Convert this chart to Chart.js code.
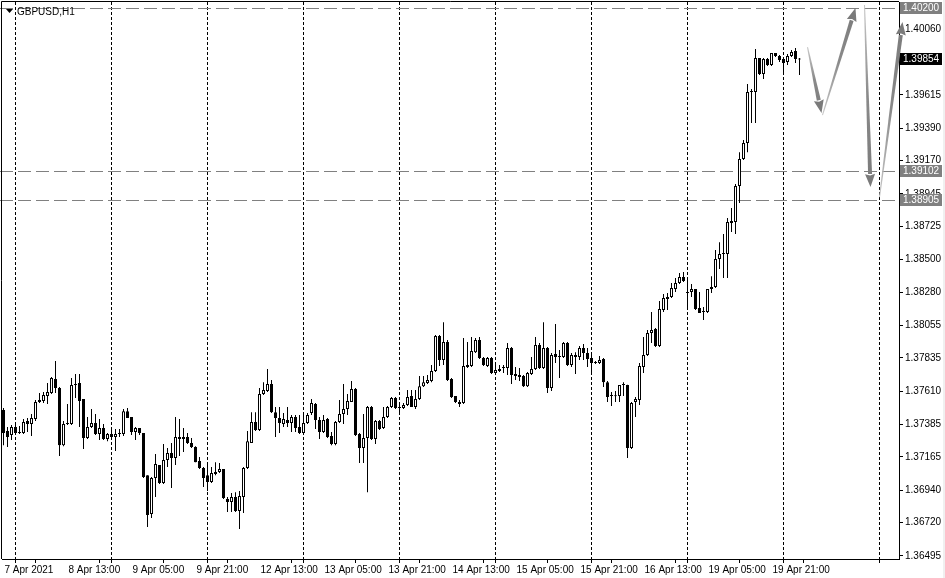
<!DOCTYPE html>
<html>
<head>
<meta charset="utf-8">
<title>GBPUSD,H1</title>
<script src="https://cdn.jsdelivr.net/npm/chart.js@4.4.1/dist/chart.umd.min.js"></script>
<style>
  html, body { margin: 0; padding: 0; background: #fff; }
  canvas { display: block; }
</style>
</head>
<body>
<canvas id="grafico" width="945" height="578"></canvas>
<script>
// GBPUSD H1, one bar per hour from 7 Apr 2021 21:00
const opens = [
  1.37482,1.37340,1.37313,1.37368,1.37327,1.37327,1.37408,1.37388,1.37421,1.37536,
  1.37543,1.37577,1.37598,1.37692,1.37631,1.37245,1.37388,1.37388,1.37651,1.37665,
  1.37557,1.37293,1.37368,1.37395,1.37320,1.37361,1.37286,1.37320,1.37300,1.37320,
  1.37320,1.37475,1.37435,1.37333,1.37361,1.37327,1.37042,1.36779,1.37022,1.37110,
  1.36989,1.37144,1.37192,1.37158,1.37300,1.37286,1.37300,1.37259,1.37232,1.37137,
  1.37090,1.37042,1.36995,1.37063,1.37063,1.37083,1.36880,1.36860,1.36894,1.36799,
  1.36894,1.37090,1.37259,1.37401,1.37347,1.37591,1.37611,1.37658,1.37468,1.37428,
  1.37388,1.37415,1.37395,1.37435,1.37368,1.37327,1.37395,1.37462,1.37523,1.37415,
  1.37333,1.37421,1.37306,1.37252,1.37401,1.37455,1.37489,1.37536,1.37624,1.37320,
  1.37225,1.37293,1.37503,1.37286,1.37408,1.37361,1.37435,1.37503,1.37564,1.37496,
  1.37496,1.37516,1.37577,1.37503,1.37557,1.37644,1.37665,1.37678,1.37746,1.37983,
  1.37821,1.37942,1.37692,1.37577,1.37536,1.37530,1.37774,1.37780,1.37874,1.37956,
  1.37834,1.37780,1.37834,1.37733,1.37746,1.37767,1.37767,1.37902,1.37726,1.37719,
  1.37712,1.37644,1.37726,1.37760,1.37922,1.37767,1.37902,1.37631,1.37861,1.37841,
  1.37841,1.37936,1.37787,1.37841,1.37841,1.37902,1.37868,1.37834,1.37801,1.37801,
  1.37827,1.37671,1.37577,1.37577,1.37577,1.37651,1.37651,1.37225,1.37536,1.37550,
  1.37774,1.37854,1.38004,1.38030,1.37915,1.38159,1.38233,1.38247,1.38301,1.38342,
  1.38382,1.38274,1.38281,1.38301,1.38173,1.38145,1.38145,1.38301,1.38314,1.38504,
  1.38538,1.38538,1.38761,1.38754,1.38998,1.39181,1.39289,1.39634,1.39634,1.39864,
  1.39755,1.39857,1.39816,1.39898,1.39877,1.39857,1.39836,1.39877,1.39911,1.39857
];
const highs = [
  1.37496,1.37368,1.37381,1.37381,1.37374,1.37421,1.37428,1.37455,1.37550,1.37598,
  1.37604,1.37665,1.37706,1.37814,1.37638,1.37408,1.37523,1.37699,1.37726,1.37726,
  1.37557,1.37435,1.37489,1.37455,1.37421,1.37388,1.37327,1.37347,1.37354,1.37354,
  1.37489,1.37496,1.37435,1.37368,1.37361,1.37327,1.37042,1.37029,1.37185,1.37110,
  1.37252,1.37225,1.37259,1.37435,1.37421,1.37361,1.37327,1.37293,1.37238,1.37165,
  1.37097,1.37110,1.37097,1.37130,1.37124,1.37083,1.36894,1.36921,1.36927,1.36934,
  1.37097,1.37340,1.37468,1.37468,1.37631,1.37671,1.37760,1.37685,1.37503,1.37503,
  1.37462,1.37503,1.37448,1.37448,1.37448,1.37448,1.37462,1.37557,1.37530,1.37435,
  1.37448,1.37428,1.37333,1.37408,1.37550,1.37658,1.37591,1.37678,1.37631,1.37327,
  1.37455,1.37509,1.37509,1.37415,1.37415,1.37503,1.37509,1.37571,1.37571,1.37530,
  1.37530,1.37618,1.37618,1.37618,1.37712,1.37712,1.37719,1.37787,1.37990,1.37990,
  1.38077,1.37956,1.37699,1.37577,1.37550,1.37970,1.37942,1.37977,1.37970,1.37977,
  1.37841,1.37841,1.37841,1.37801,1.37787,1.37787,1.37936,1.37909,1.37774,1.37767,
  1.37719,1.37739,1.37841,1.37977,1.37936,1.38077,1.37909,1.37868,1.38064,1.37888,
  1.37942,1.37942,1.37868,1.37874,1.37915,1.37929,1.37902,1.37854,1.37814,1.37848,
  1.37834,1.37678,1.37604,1.37611,1.37651,1.37671,1.37653,1.37536,1.37571,1.37801,
  1.37977,1.38024,1.38145,1.38037,1.38220,1.38267,1.38274,1.38342,1.38375,1.38409,
  1.38416,1.38368,1.38335,1.38301,1.38281,1.38179,1.38301,1.38388,1.38565,1.38618,
  1.38673,1.38782,1.38849,1.39011,1.39227,1.39309,1.39688,1.39654,1.39925,1.39864,
  1.39864,1.39864,1.39898,1.39898,1.39884,1.39864,1.39891,1.39918,1.39931,1.39864
];
const lows = [
  1.37245,1.37232,1.37279,1.37320,1.37320,1.37320,1.37333,1.37306,1.37408,1.37530,
  1.37530,1.37523,1.37591,1.37598,1.37171,1.37238,1.37381,1.37381,1.37563,1.37368,
  1.37218,1.37286,1.37361,1.37313,1.37279,1.37279,1.37272,1.37300,1.37205,1.37300,
  1.37306,1.37428,1.37313,1.37279,1.37313,1.37022,1.36691,1.36752,1.36894,1.36982,
  1.36982,1.37097,1.36955,1.37110,1.37171,1.37198,1.37252,1.37225,1.37130,1.37083,
  1.36962,1.36934,1.36989,1.37042,1.37056,1.36880,1.36792,1.36792,1.36792,1.36677,
  1.36786,1.37083,1.37259,1.37340,1.37340,1.37584,1.37604,1.37462,1.37300,1.37327,
  1.37368,1.37368,1.37333,1.37333,1.37320,1.37320,1.37388,1.37448,1.37354,1.37286,
  1.37327,1.37293,1.37245,1.37245,1.37395,1.37388,1.37448,1.37536,1.37306,1.37124,
  1.37124,1.36927,1.37279,1.37252,1.37347,1.37354,1.37428,1.37496,1.37489,1.37468,
  1.37489,1.37509,1.37503,1.37489,1.37550,1.37638,1.37658,1.37671,1.37739,1.37780,
  1.37787,1.37678,1.37563,1.37530,1.37503,1.37523,1.37767,1.37774,1.37868,1.37827,
  1.37780,1.37774,1.37726,1.37726,1.37739,1.37733,1.37719,1.37658,1.37685,1.37678,
  1.37638,1.37638,1.37719,1.37753,1.37760,1.37760,1.37598,1.37611,1.37801,1.37699,
  1.37834,1.37780,1.37774,1.37726,1.37821,1.37821,1.37774,1.37739,1.37794,1.37794,
  1.37638,1.37536,1.37509,1.37536,1.37536,1.37577,1.37158,1.37218,1.37435,1.37516,
  1.37733,1.37848,1.37936,1.37909,1.37909,1.38145,1.38159,1.38240,1.38281,1.38335,
  1.38348,1.38179,1.38247,1.38159,1.38139,1.38091,1.38139,1.38274,1.38308,1.38436,
  1.38375,1.38375,1.38686,1.38673,1.38883,1.39174,1.39227,1.39424,1.39424,1.39748,
  1.39721,1.39809,1.39809,1.39871,1.39836,1.39762,1.39816,1.39871,1.39830,1.39748
];
const closes = [
  1.37327,1.37300,1.37368,1.37327,1.37333,1.37401,1.37388,1.37428,1.37536,1.37550,
  1.37584,1.37604,1.37699,1.37631,1.37245,1.37388,1.37395,1.37651,1.37658,1.37543,
  1.37293,1.37368,1.37395,1.37320,1.37361,1.37286,1.37320,1.37300,1.37320,1.37322,
  1.37475,1.37428,1.37333,1.37361,1.37327,1.37029,1.36772,1.37022,1.37117,1.36989,
  1.37144,1.37192,1.37158,1.37300,1.37286,1.37300,1.37259,1.37232,1.37130,1.37090,
  1.37022,1.36995,1.37056,1.37049,1.37083,1.36887,1.36860,1.36894,1.36799,1.36901,
  1.37090,1.37272,1.37401,1.37347,1.37591,1.37618,1.37658,1.37468,1.37428,1.37395,
  1.37421,1.37395,1.37435,1.37361,1.37327,1.37395,1.37448,1.37530,1.37415,1.37333,
  1.37415,1.37300,1.37252,1.37401,1.37455,1.37489,1.37543,1.37624,1.37313,1.37225,
  1.37293,1.37503,1.37286,1.37408,1.37354,1.37435,1.37503,1.37564,1.37496,1.37498,
  1.37516,1.37571,1.37503,1.37557,1.37644,1.37671,1.37685,1.37746,1.37983,1.37821,
  1.37942,1.37685,1.37571,1.37536,1.37523,1.37780,1.37787,1.37881,1.37956,1.37834,
  1.37787,1.37834,1.37733,1.37753,1.37760,1.37769,1.37902,1.37719,1.37712,1.37706,
  1.37644,1.37733,1.37760,1.37922,1.37767,1.37902,1.37631,1.37854,1.37841,1.37843,
  1.37936,1.37787,1.37854,1.37854,1.37902,1.37868,1.37827,1.37801,1.37803,1.37821,
  1.37671,1.37571,1.37579,1.37575,1.37651,1.37653,1.37225,1.37530,1.37557,1.37780,
  1.37854,1.38004,1.38024,1.37915,1.38166,1.38240,1.38247,1.38308,1.38342,1.38382,
  1.38355,1.38276,1.38301,1.38166,1.38139,1.38147,1.38301,1.38314,1.38504,1.38538,
  1.38540,1.38754,1.38748,1.38998,1.39181,1.39289,1.39634,1.39640,1.39864,1.39755,
  1.39857,1.39816,1.39898,1.39877,1.39850,1.39830,1.39877,1.39904,1.39857,1.39854
];

// axis labels
const yTicks = [1.40060, 1.39840, 1.39615, 1.39390, 1.39170, 1.38945, 1.38725, 1.38500,
  1.38280, 1.38055, 1.37835, 1.37610, 1.37385, 1.37165, 1.36940, 1.36720, 1.36495];
const xLabelIdx = [0, 16, 32, 48, 64, 80, 96, 112, 128, 144, 160, 176, 192];
const xLabels = ["7 Apr 2021", "8 Apr 13:00", "9 Apr 05:00", "9 Apr 21:00", "12 Apr 13:00",
  "13 Apr 05:00", "13 Apr 21:00", "14 Apr 13:00", "15 Apr 05:00", "15 Apr 21:00",
  "16 Apr 13:00", "19 Apr 05:00", "19 Apr 21:00"];
const dayStarts = [3, 27, 51, 75, 99, 123, 147, 171, 195, 219];

// drawn objects: horizontal levels and the arrows (bar index, price)
const levelLines = [1.40200, 1.39102, 1.38905];
const arrowsFrom = [[201, 1.39938], [204.75, 1.39478], [215.25, 1.40222], [219, 1.38923]];
const arrowsTo   = [[204.5, 1.39492], [213, 1.40202], [216.75, 1.38991], [224.75, 1.40107]];

const FONT = 'Liberation Sans';
const GREY = '#808080';

function drawArrow(c, x0, y0, x1, y1) {
  const ang = Math.atan2(y1 - y0, x1 - x0);
  const cos = Math.cos(ang), sin = Math.sin(ang);
  const head = 13, hw = 5;
  const bx = x1 - head * cos, by = y1 - head * sin;
  const grad = c.createLinearGradient(x0, y0, x1, y1);
  grad.addColorStop(0, '#c8c8c8');
  grad.addColorStop(0.5, '#8a8a8a');
  grad.addColorStop(1, '#7a7a7a');
  c.fillStyle = grad;
  // tapered shaft
  c.beginPath();
  c.moveTo(x0 - 0.5 * sin, y0 + 0.5 * cos);
  c.lineTo(bx - 2 * sin, by + 2 * cos);
  c.lineTo(bx + 2 * sin, by - 2 * cos);
  c.lineTo(x0 + 0.5 * sin, y0 - 0.5 * cos);
  c.closePath();
  c.fill();
  // head
  c.fillStyle = '#7a7a7a';
  c.beginPath();
  c.moveTo(x1, y1);
  c.lineTo(bx - hw * sin, by + hw * cos);
  c.lineTo(bx + 1.5 * cos, by + 1.5 * sin);
  c.lineTo(bx + hw * sin, by - hw * cos);
  c.closePath();
  c.fill();
}

function priceTag(c, y, text, bg) {
  c.fillStyle = bg;
  c.fillRect(900, Math.round(y) - 6, 42, 12);
  c.fillStyle = '#ffffff';
  c.font = '10px "' + FONT + '"';
  c.textBaseline = 'middle';
  c.textAlign = 'left';
  c.fillText(text, 903, Math.round(y) + 0.5);
}

const mt4Decor = {
  id: 'mt4Decor',
  beforeDraw(chart) {
    const c = chart.ctx;
    c.save();
    c.fillStyle = '#ffffff';
    c.fillRect(0, 0, chart.width, chart.height);
    c.fillStyle = '#f0f0f0';
    c.fillRect(943, 0, chart.width - 943, chart.height);
    c.restore();
  },
  beforeDatasetsDraw(chart) {
    const c = chart.ctx, a = chart.chartArea;
    const xs = chart.scales.x, ys = chart.scales.y;
    c.save();
    c.lineWidth = 1;
    c.strokeStyle = '#000';
    c.setLineDash([3, 2]);
    dayStarts.forEach(i => {
      const px = Math.floor(xs.getPixelForValue(i)) + 0.5;
      c.beginPath(); c.moveTo(px, a.top); c.lineTo(px, a.bottom); c.stroke();
    });
    c.strokeStyle = GREY;
    c.setLineDash([13, 5]);
    levelLines.forEach(v => {
      const py = Math.round(ys.getPixelForValue(v)) + 0.5;
      c.beginPath(); c.moveTo(0, py); c.lineTo(a.right, py); c.stroke();
    });
    c.restore();
  },
  afterDraw(chart) {
    const c = chart.ctx, a = chart.chartArea;
    const xs = chart.scales.x, ys = chart.scales.y;
    c.save();
    // frame left / top
    c.strokeStyle = '#000';
    c.lineWidth = 1;
    c.beginPath();
    c.moveTo(1.5, a.bottom); c.lineTo(1.5, 1.5); c.lineTo(a.right, 1.5);
    c.stroke();
    // day ticks on the time axis
    dayStarts.forEach(i => {
      const px = Math.floor(xs.getPixelForValue(i)) + 0.5;
      c.beginPath(); c.moveTo(px, a.bottom); c.lineTo(px, a.bottom + 4); c.stroke();
    });
    // symbol title
    c.fillStyle = '#000';
    c.beginPath();
    c.moveTo(6, 9); c.lineTo(13, 9); c.lineTo(9.5, 13); c.closePath(); c.fill();
    c.font = '10px "' + FONT + '"';
    c.textBaseline = 'middle';
    c.fillText('GBPUSD,H1', 17, 12);
    // arrows
    arrowsFrom.forEach((p, k) => {
      const q = arrowsTo[k];
      drawArrow(c, xs.getPixelForValue(p[0]), ys.getPixelForValue(p[1]),
        xs.getPixelForValue(q[0]), ys.getPixelForValue(q[1]));
    });
    // price tags on the axis
    levelLines.forEach(v => priceTag(c, ys.getPixelForValue(v), v.toFixed(5), GREY));
    const last = closes[closes.length - 1];
    priceTag(c, ys.getPixelForValue(last), last.toFixed(5), '#000000');
    c.restore();
  }
};

document.addEventListener("DOMContentLoaded", function () {
  const ctx = document.getElementById('grafico').getContext('2d');

  const corpos = opens.map((o, i) => ({ x: i, y: [Math.min(o, closes[i]), Math.max(o, closes[i])] }));
  const sombras = highs.map((h, i) => ({ x: i, y: [lows[i], h] }));
  const corCorpo = opens.map((o, i) => closes[i] >= o ? '#ffffff' : '#000000');

  const config = {
    type: 'bar',
    data: {
      datasets: [{
        label: 'body',
        data: corpos,
        backgroundColor: corCorpo,
        borderColor: '#000000',
        borderWidth: 1,
        borderSkipped: false,
        barThickness: 3,
        minBarLength: 1,
        inflateAmount: 0,
        grouped: false
      }, {
        label: 'wick',
        data: sombras,
        backgroundColor: '#000000',
        borderWidth: 0,
        barThickness: 1,
        inflateAmount: 0,
        grouped: false
      }]
    },
    options: {
      responsive: false,
      animation: false,
      devicePixelRatio: 1,
      layout: { padding: { left: 2, top: 2, right: 0, bottom: 0 } },
      plugins: { legend: { display: false }, tooltip: { enabled: false } },
      scales: {
        x: {
          type: 'linear',
          min: -0.375,
          max: 223.875,
          offset: false,
          afterBuildTicks: s => { s.ticks = xLabelIdx.map(v => ({ value: v })); },
          afterFit: s => { s.height = 19; s.paddingLeft = 0; s.paddingRight = 0; },
          grid: { drawOnChartArea: false, tickLength: 4, color: '#000' },
          border: { display: true, color: '#000' },
          ticks: {
            autoSkip: false, maxRotation: 0, minRotation: 0,
            align: 'start', labelOffset: 1, padding: 1,
            color: '#000', font: { family: FONT, size: 10 },
            callback: (v, k) => xLabels[k]
          }
        },
        y: {
          type: 'linear',
          position: 'right',
          min: 1.364747,
          max: 1.402426,
          afterBuildTicks: s => { s.ticks = yTicks.map(v => ({ value: v })); },
          afterFit: s => { s.width = 46; s.paddingTop = 0; s.paddingBottom = 0; },
          grid: { drawOnChartArea: false, tickLength: 4, color: '#000' },
          border: { display: true, color: '#000' },
          ticks: {
            autoSkip: false, padding: 2,
            color: '#000', font: { family: FONT, size: 10 },
            callback: v => v.toFixed(5)
          }
        }
      }
    },
    plugins: [mt4Decor]
  };

  new Chart(ctx, config);
});
</script>
</body>
</html>
